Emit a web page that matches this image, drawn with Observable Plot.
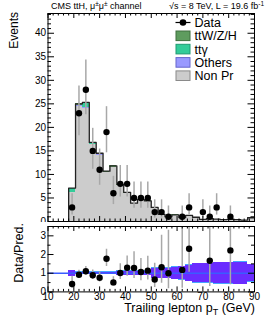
<!DOCTYPE html>
<html><head><meta charset="utf-8">
<script src="https://cdn.jsdelivr.net/npm/d3@7"></script>
<script src="https://cdn.jsdelivr.net/npm/@observablehq/plot@0.6"></script>
<style>
html,body{margin:0;padding:0;background:#fff;}
#wrap{position:relative;width:266px;height:322px;overflow:hidden;font-family:"Liberation Sans",Arial,Helvetica,sans-serif;}
#wrap svg{position:absolute;left:0;overflow:hidden;}
</style></head><body><div id="wrap"></div>
<script>
// ---- data (trailing lepton pT bins, GeV) ----
const binEdges = [18,20.67,23.33,26,28.67,31.33,34,36.67,39.33,42,44.67,47.33,50,52.67,55.33,58,60.67,63.33,66,68.67,71.33,74,76.67,79.33,82,84.67,87.33,90];
const dataCounts = [3,23,28,15,11,19,6,8,8,5,5,5,2,2,1,0,1,3,0,2,1,3,0,1,0,0,0];
const dataErrLo  = [1.37,18.2,22.7,11.1,7.7,14.6,3.6,5.2,5.2,2.8,2.8,2.8,0.71,0.71,0.17,0,0.17,1.37,0,0.71,0.17,1.37,0,0.17,0,0,0];
const dataErrHi  = [5.9,28.8,34.3,19.8,15.4,24.4,9.6,11.9,11.9,8.4,8.4,8.4,4.6,4.6,3.3,0,3.3,5.9,0,4.6,3.3,5.9,0,3.3,0,0,0];
const nonPrompt  = [6.2,24.45,24.05,16.37,14.07,10.4,11.45,7.66,6.02,3.75,4.55,4.28,2.88,1.42,0.93,1.33,0.79,1.24,0.85,0.41,0.57,0.47,0.37,0.42,0.38,0.28,0.77];
const othersBkg  = [0.05,0.1,0.1,0.08,0.08,0.05,0.05,0.04,0.03,0.03,0.03,0.02,0.02,0.02,0.01,0.01,0.01,0.01,0.01,0,0,0,0,0,0,0,0];
const ttGamma    = [0.7,0.1,0.85,0.05,0.05,0,0.05,0,0,0,0,0,0,0,0,0,0,0,0,0,0,0,0,0,0,0,0];
const ttVH       = [0.15,0.35,0.3,0.3,0.3,0.25,0.25,0.2,0.15,0.12,0.12,0.1,0.1,0.08,0.06,0.06,0.05,0.05,0.04,0.04,0.03,0.03,0.03,0.03,0.02,0.02,0.03];
const bandStat   = [0.15,0.04,0.04,0.04,0.04,0.04,0.04,0.1,0.1,0.1,0.1,0.1,0.26,0.26,0.27,0.33,0.34,0.42,0.5,0.5,0.5,0.55,0.55,0.55,0.58,0.58,0.45];
const bandTotal  = [0.17,0.09,0.09,0.09,0.09,0.09,0.09,0.13,0.13,0.13,0.13,0.13,0.29,0.29,0.3,0.36,0.37,0.45,0.53,0.53,0.53,0.58,0.58,0.58,0.61,0.61,0.48];
const yTicksUpper = [0,5,10,15,20,25,30,35,40];
const yTicksRatio = [0,1,2,3];
const xTicks = [10,20,30,40,50,60,70,80,90];
const legendLabels = ["Data","ttW/Z/H","tt\u03b3","Others","Non Pr"];
const colors = {ttv:"#5e9c5e", ttg:"#33cc99", others:"#9999ff", nonPr:"#cccccc"};
const strokeCols = {ttv:"#3f6f3f", ttg:"#1f9a72", others:"#6666cc", nonPr:"#8a8a8a"};

const FONT = "Liberation Sans, Arial, Helvetica, sans-serif";
const bins = dataCounts.map((d,i)=>{
  const b = {x1:binEdges[i], x2:binEdges[i+1], data:d, lo:dataErrLo[i], hi:dataErrHi[i],
    nonPr:nonPrompt[i], others:othersBkg[i], ttg:ttGamma[i], ttv:ttVH[i], bs:bandStat[i], bt:bandTotal[i]};
  b.total = b.nonPr+b.others+b.ttg+b.ttv; b.xc=(b.x1+b.x2)/2;
  b.ratio = b.data/b.total; b.rlo = b.lo/b.total; b.rhi = b.hi/b.total;
  return b;
});
const segs = [];
bins.forEach(b=>{ let y=0; ["nonPr","others","ttg","ttv"].forEach(k=>{ if(b[k]>0){segs.push({x1:b.x1,x2:b.x2,y1:y,y2:y+b[k],fill:colors[k]});} y+=b[k]; }); });
const step = [{x:binEdges[0], y:0}];
bins.forEach(b=>{ step.push({x:b.x1,y:b.total}); step.push({x:b.x2,y:b.total}); });
const dataPts = bins.filter(b=>b.data>0);
const ratioPts = dataPts.filter(b=>b.ratio<=3.5);

const W=266, mL=47.5, mR=12;
const fw = W-mL-mR;
const range = (a,b,s)=>d3.range(a,b+1e-9,s);
const xMinor = range(10,90,2).filter(v=>v%10!==0);
const fmt = d => String(d);

// ---- upper panel ----
const upH=222, upT=13, upB=1; const fhU = upH-upT-upB;
const yMinorU = range(0,44,1).filter(v=>v%5!==0);
const up = Plot.plot({
  width: W, height: upH, marginLeft: mL, marginRight: mR, marginTop: upT, marginBottom: upB,
  x: {domain:[10,90], axis:null}, y: {domain:[0,44.2]},
  style: {fontFamily: FONT, fontSize:"10px", color:"black", background:"white", overflow:"hidden"},
  marks: [
    Plot.rect(segs, {x1:"x1", x2:"x2", y1:"y1", y2:"y2", fill: d=>d.fill, shapeRendering:"crispEdges"}),
    Plot.line(step, {x:"x", y:"y", stroke:"#222", strokeWidth:1.3}),
    Plot.ruleX(dataPts, {x:"xc", y1:"lo", y2:"hi", stroke:"#a8a8a8", strokeWidth:1.5}),
    Plot.dot(dataPts, {x:"xc", y:"data", r:3.2, fill:"black"}),
    Plot.axisY({ticks: yTicksUpper, tickSize:0, tickPadding:2, label:null, fontSize:10, tickFormat: fmt}),
    Plot.tickY(yTicksUpper, {y:d=>d, insetRight: fw-6.5, stroke:"black"}),
    Plot.tickY(yTicksUpper, {y:d=>d, insetLeft: fw-6.5, stroke:"black"}),
    Plot.tickY(yMinorU, {y:d=>d, insetRight: fw-3.5, stroke:"black"}),
    Plot.tickY(yMinorU, {y:d=>d, insetLeft: fw-3.5, stroke:"black"}),
    Plot.tickX(xTicks, {x:d=>d, insetTop: fhU-5, stroke:"black"}),
    Plot.tickX(xTicks, {x:d=>d, insetBottom: fhU-5, stroke:"black"}),
    Plot.tickX(xMinor, {x:d=>d, insetTop: fhU-2.5, stroke:"black"}),
    Plot.tickX(xMinor, {x:d=>d, insetBottom: fhU-2.5, stroke:"black"}),
    Plot.frame({stroke:"black"})
  ]
});
up.style.top = "0px";

// ---- ratio panel ----
const loH=100, loT=4, loB=30.6; const fhL = loH-loT-loB;
const yMinorL = [0.5,1.5,2.5];
const lo = Plot.plot({
  width: W, height: loH, marginLeft: mL, marginRight: mR, marginTop: loT, marginBottom: loB,
  x: {domain:[10,90]}, y: {domain:[0,3.5]},
  style: {fontFamily: FONT, fontSize:"10px", color:"black", background:"white", overflow:"hidden"},
  marks: [
    Plot.rect(bins, {x1:"x1", x2:"x2", y1:d=>1-d.bt, y2:d=>1+d.bt, fill:"#45a6ff", shapeRendering:"crispEdges"}),
    Plot.rect(bins, {x1:"x1", x2:"x2", y1:d=>1-d.bs, y2:d=>1+d.bs, fill:"#6a2cff", shapeRendering:"crispEdges"}),
    Plot.ruleY([1], {stroke:"#3a5cff", strokeWidth:1.5}),
    Plot.ruleX(ratioPts, {x:"xc", y1:"rlo", y2:"rhi", stroke:"#a8a8a8", strokeWidth:1.5, clip:true}),
    Plot.dot(ratioPts, {x:"xc", y:"ratio", r:3.2, fill:"black"}),
    Plot.axisY({ticks: yTicksRatio, tickSize:0, tickPadding:2, label:null, fontSize:10, tickFormat: fmt}),
    Plot.axisX({ticks: xTicks, tickSize:0, tickPadding:1, label:null, fontSize:10, tickFormat: fmt}),
    Plot.tickY(yTicksRatio, {y:d=>d, insetRight: fw-6, stroke:"black"}),
    Plot.tickY(yTicksRatio, {y:d=>d, insetLeft: fw-6, stroke:"black"}),
    Plot.tickY(yMinorL, {y:d=>d, insetRight: fw-3, stroke:"black"}),
    Plot.tickY(yMinorL, {y:d=>d, insetLeft: fw-3, stroke:"black"}),
    Plot.tickX(xTicks, {x:d=>d, insetTop: fhL-5, stroke:"black"}),
    Plot.tickX(xTicks, {x:d=>d, insetBottom: fhL-5, stroke:"black"}),
    Plot.tickX(xMinor, {x:d=>d, insetTop: fhL-2.5, stroke:"black"}),
    Plot.tickX(xMinor, {x:d=>d, insetBottom: fhL-2.5, stroke:"black"}),
    Plot.frame({stroke:"black"})
  ]
});
lo.style.top = upH+"px";

const wrap = document.getElementById("wrap");
wrap.appendChild(up); wrap.appendChild(lo);

// ---- overlay texts & legend ----
const ov = d3.select(wrap).append("svg").attr("width",W).attr("height",322)
  .style("top","0px").style("pointer-events","none").style("font-family",FONT);
const t1 = ov.append("text").attr("x",51).attr("y",9).attr("font-size",9);
t1.append("tspan").text("CMS ttH, \u03bc");
t1.append("tspan").attr("dy",-3).attr("font-size",6.5).text("\u00b1");
t1.append("tspan").attr("dy",3).text("\u03bc");
t1.append("tspan").attr("dy",-3).attr("font-size",6.5).text("\u00b1");
t1.append("tspan").attr("dy",3).text(" channel");
const t2 = ov.append("text").attr("x",264).attr("y",9).attr("font-size",9).attr("text-anchor","end");
t2.append("tspan").text("\u221as = 8 TeV, L = 19.6 fb");
t2.append("tspan").attr("dy",-3.5).attr("font-size",6.5).text("-1");

ov.append("text").attr("transform","translate(18,12) rotate(-90)").attr("text-anchor","end")
  .attr("font-size",12).text("Events");
ov.append("text").attr("transform","translate(22.5,223) rotate(-90)").attr("text-anchor","end")
  .attr("font-size",12.5).text("Data/Pred.");
const xt = ov.append("text").attr("x",255).attr("y",312).attr("text-anchor","end").attr("font-size",12.5);
xt.append("tspan").text("Trailing lepton p");
xt.append("tspan").attr("dy",3).attr("font-size",9).text("T");
xt.append("tspan").attr("dy",-3).text(" (GeV)");

// legend
const rows = [22.5,35.8,49.1,62.4,75.7];
const keys = [null,"ttv","ttg","others","nonPr"];
rows.forEach((ry,i)=>{
  if(i===0){
    ov.append("line").attr("x1",175.5).attr("x2",190.5).attr("y1",ry).attr("y2",ry).attr("stroke","black").attr("stroke-width",1.2);
    ov.append("circle").attr("cx",183).attr("cy",ry).attr("r",3.3).attr("fill","black");
  } else {
    ov.append("rect").attr("x",176).attr("y",ry-4.8).attr("width",14).attr("height",9.6)
      .attr("fill",colors[keys[i]]).attr("stroke",strokeCols[keys[i]]).attr("stroke-width",1);
  }
  ov.append("text").attr("x",194.5).attr("y",ry+4.4).attr("font-size",12.5).text(legendLabels[i]);
});
</script>
</body></html>
